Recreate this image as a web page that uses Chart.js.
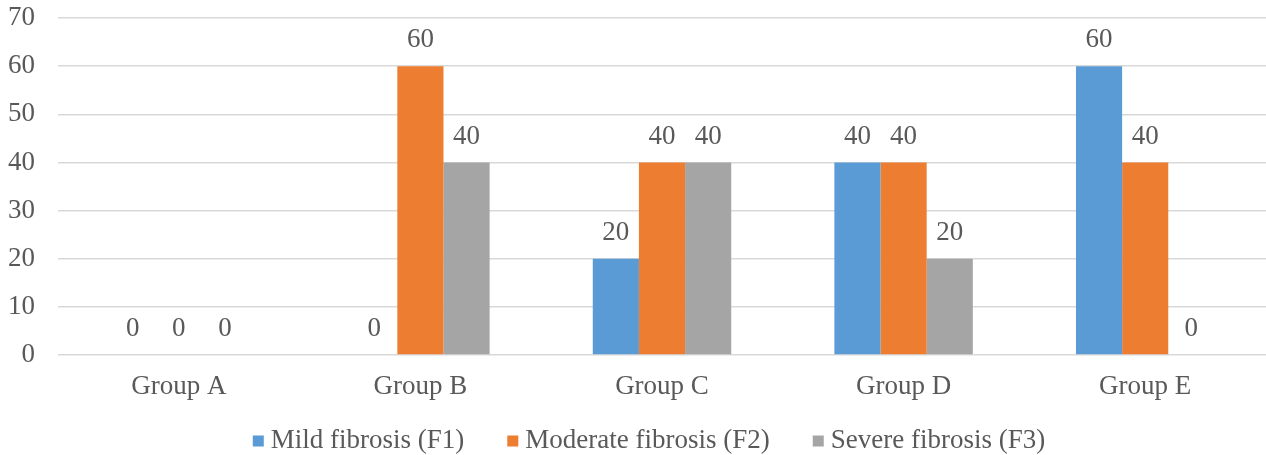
<!DOCTYPE html>
<html>
<head>
<meta charset="utf-8">
<script src="https://cdn.jsdelivr.net/npm/chart.js@4"></script>
<style>
  html, body { margin: 0; padding: 0; background: #fff; }
  #wrap { width: 1266px; height: 455px; }
</style>
</head>
<body>
<div id="wrap"><canvas id="chart"></canvas></div>
<script>
const groups = ['Group A', 'Group B', 'Group C', 'Group D', 'Group E'];
const mildF1 = [0, 0, 20, 40, 60];
const moderateF2 = [0, 60, 40, 40, 40];
const severeF3 = [0, 40, 40, 20, 0];
const yTicks = [0, 10, 20, 30, 40, 50, 60, 70];

const FONT = 'Liberation Serif, Times New Roman, serif';
const TEXT = '#595959';
const SIZE = 27;

// draw the value above every bar
const valueLabels = {
  id: 'valueLabels',
  afterDatasetsDraw(chart) {
    const ctx = chart.ctx;
    ctx.save();
    ctx.font = SIZE + 'px ' + FONT;
    ctx.fillStyle = TEXT;
    ctx.textAlign = 'center';
    ctx.textBaseline = 'middle';
    chart.data.datasets.forEach((ds, i) => {
      chart.getDatasetMeta(i).data.forEach((bar, j) => {
        ctx.fillText(String(ds.data[j]), bar.x, bar.y - 26);
      });
    });
    ctx.restore();
  }
};

// legend drawn by hand so the gaps can match the original
const bottomLegend = {
  id: 'bottomLegend',
  afterDraw(chart) {
    const ctx = chart.ctx;
    const box = 11, gapIn = 7, gapOut = 43, cy = 441, centerX = 649;
    ctx.save();
    ctx.font = SIZE + 'px ' + FONT;
    ctx.textBaseline = 'middle';
    const items = chart.data.datasets.map(ds => ({
      text: ds.label, color: ds.backgroundColor, w: ctx.measureText(ds.label).width
    }));
    let total = items.reduce((s, it) => s + box + gapIn + it.w, 0) + gapOut * (items.length - 1);
    let x = centerX - total / 2;
    items.forEach(it => {
      ctx.fillStyle = it.color;
      ctx.fillRect(x, cy - box / 2, box, box);
      ctx.fillStyle = TEXT;
      ctx.fillText(it.text, x + box + gapIn, cy);
      x += box + gapIn + it.w + gapOut;
    });
    ctx.restore();
  }
};

new Chart(document.getElementById('chart'), {
  type: 'bar',
  data: {
    labels: groups,
    datasets: [
      { label: 'Mild fibrosis (F1)', data: mildF1, backgroundColor: '#5b9bd5' },
      { label: 'Moderate fibrosis (F2)', data: moderateF2, backgroundColor: '#ed7d31' },
      { label: 'Severe fibrosis (F3)', data: severeF3, backgroundColor: '#a5a5a5' }
    ]
  },
  options: {
    responsive: true,
    maintainAspectRatio: false,
    animation: false,
    datasets: { bar: { categoryPercentage: 0.573, barPercentage: 1 } },
    layout: { padding: { top: 18, right: 0, left: 0, bottom: 0 } },
    plugins: {
      tooltip: { enabled: false },
      legend: { display: false }
    },
    scales: {
      x: {
        afterFit(axis) { axis.height = 100; },
        grid: { display: false },
        border: { display: false },
        ticks: { color: TEXT, font: { family: FONT, size: SIZE }, padding: 8 }
      },
      y: {
        min: 0, max: 70,
        afterBuildTicks(axis) { axis.ticks = yTicks.map(v => ({ value: v })); },
        afterFit(axis) { axis.width = 58; axis.paddingTop = 0; axis.paddingBottom = 0; },
        grid: { color: '#d9d9d9', lineWidth: 1.5, drawTicks: false },
        border: { display: false },
        ticks: { color: TEXT, font: { family: FONT, size: SIZE }, padding: 23 }
      }
    }
  },
  plugins: [valueLabels, bottomLegend]
});
</script>
</body>
</html>
